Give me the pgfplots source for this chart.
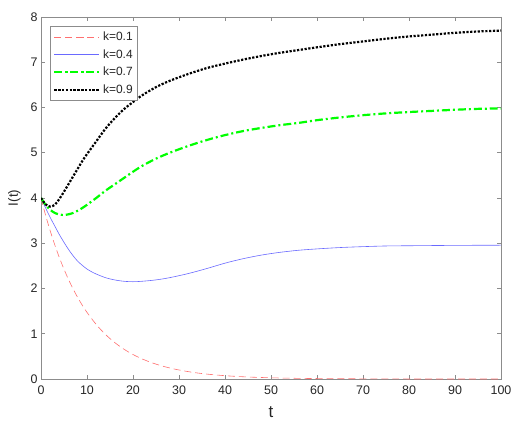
\documentclass[border=0pt]{standalone}
\usepackage{fontspec}
\setmainfont{Liberation Sans}
\usepackage{pgfplots}
\pgfplotsset{compat=1.18}
\definecolor{axgray}{HTML}{8C8C8C}
\definecolor{txt}{HTML}{262626}
\definecolor{lred}{HTML}{FF7070}
\definecolor{lblue}{HTML}{6A6AFF}
\definecolor{lgreen}{HTML}{00FF00}

\begin{document}
\begin{tikzpicture}
  \begin{axis}[
      name=ax,
      width=460bp, height=362bp, scale only axis,
      xmin=0, xmax=100, ymin=0, ymax=8,
      xtick={0,10,...,100}, ytick={0,1,...,8},
      tick align=inside, major tick length=4bp,
      axis line style={axgray, line width=0.6pt},
      every tick/.style={axgray, line width=0.6pt},
      ticklabel style={font=\fontsize{12.5}{14}\selectfont, text=txt},
      xticklabel style={yshift=-3bp},
      /pgf/number format/assume math mode=true,
      xlabel={t}, ylabel={I(t)},
      xlabel style={font=\fontsize{17}{19}\selectfont, text=txt, yshift=-5bp},
      ylabel style={font=\fontsize{13.5}{15}\selectfont, text=txt, yshift=3bp},
      legend cell align=left,
      legend style={at={(0.02,0.975)}, anchor=north west, draw=axgray,
        font=\fontsize{12}{14}\selectfont, text=txt,
        row sep=3.6bp, column sep=1.5bp, inner xsep=3bp, inner ysep=3.5bp},
      legend image code/.code={%
        \draw[#1] plot coordinates {(0bp,0bp) (22bp,0bp) (44bp,0bp)};},
    ]
    \addplot[draw=lred, line width=0.6pt, dash pattern=on 7pt off 4pt, smooth] coordinates {
      (0,4.000) (1,3.619) (2,3.275) (3,2.963) (4,2.681) (5,2.426) (6,2.195)
      (7,1.986) (8,1.797) (9,1.626) (10,1.472) (12,1.205) (14,0.986)
      (16,0.808) (18,0.661) (20,0.541) (22,0.443) (24,0.363) (26,0.297)
      (28,0.243) (30,0.199) (33,0.147) (36,0.109) (40,0.073) (45,0.044)
      (50,0.027) (55,0.016) (60,0.010) (70,0.004) (80,0.001) (90,0.0005)
      (100,0.0002)
    };
    \addlegendentry{k=0.1}
    \addplot[draw=lblue, line width=0.6pt, smooth] coordinates {
      (0,4.00) (1,3.78) (2,3.57) (3,3.38) (4,3.19) (5,3.02) (6,2.86)
      (7,2.72) (8,2.60) (9,2.51) (10,2.43) (11,2.37) (12,2.32) (14,2.24)
      (16,2.19) (18,2.16) (20,2.15) (22,2.16) (25,2.19) (28,2.24) (32,2.33)
      (36,2.44) (40,2.56) (44,2.66) (48,2.74) (52,2.80) (56,2.845)
      (60,2.875) (65,2.905) (70,2.925) (75,2.94) (80,2.945) (90,2.953)
      (100,2.957)
    };
    \addlegendentry{k=0.4}
    \addplot[draw=lgreen, line width=2.2pt, dash pattern=on 8pt off 3pt on 2pt off 3pt, smooth] coordinates {
      (0,4.00) (1,3.85) (2,3.74) (3,3.67) (4,3.635) (5,3.625) (6,3.64)
      (7,3.67) (8,3.72) (9,3.78) (10,3.85) (12,4.00) (14,4.16) (16,4.30)
      (18,4.44) (20,4.58) (22,4.71) (25,4.87) (28,5.00) (32,5.15) (36,5.28)
      (40,5.39) (44,5.48) (48,5.55) (52,5.61) (56,5.66) (60,5.72) (65,5.78)
      (70,5.83) (75,5.87) (80,5.90) (85,5.925) (90,5.95) (95,5.97) (100,5.98)
    };
    \addlegendentry{k=0.7}
    \addplot[draw=black, line width=2.2pt, dash pattern=on 2.2pt off 1.6pt, smooth] coordinates {
      (0,4.00) (1,3.86) (2,3.81) (3,3.85) (4,3.98) (5,4.14) (6,4.31)
      (7,4.48) (8,4.65) (9,4.82) (10,4.97) (12,5.25) (14,5.53) (16,5.76)
      (18,5.96) (20,6.12) (22,6.27) (25,6.45) (28,6.59) (32,6.74) (36,6.87)
      (40,6.97) (44,7.06) (48,7.14) (52,7.21) (56,7.27) (60,7.33) (65,7.40)
      (70,7.46) (75,7.52) (80,7.57) (85,7.61) (90,7.65) (95,7.68) (100,7.70)
    };
    \addlegendentry{k=0.9}
  \end{axis}
  \path[use as bounding box] ([xshift=-41bp,yshift=-61bp]ax.south west)
    rectangle ([xshift=24bp,yshift=17bp]ax.north east);
\end{tikzpicture}
\end{document}
